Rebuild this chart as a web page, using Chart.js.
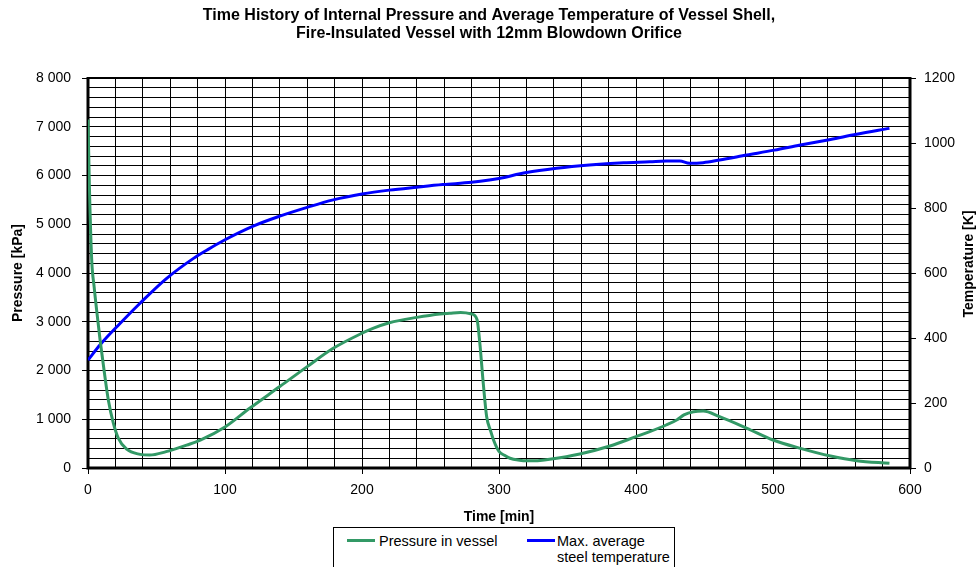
<!DOCTYPE html>
<html>
<head>
<meta charset="utf-8">
<script src="https://cdn.jsdelivr.net/npm/chart.js@4.4.1/dist/chart.umd.min.js"></script>
<style>
  html, body { margin: 0; padding: 0; background: #fff; }
  #wrap { position: relative; width: 978px; height: 567px; overflow: hidden; }
  #legend {
    position: absolute; left: 333px; top: 527px; width: 342px; height: 60px;
    border: 1px solid #000; background: #fff; box-sizing: border-box;
    font-family: "Liberation Sans", Arial, sans-serif; font-size: 14.5px; color: #000;
  }
  .item { position: absolute; top: 5px; line-height: 16px; white-space: nowrap; }
  .swatch { position: absolute; top: 11px; width: 28px; height: 3px; }
</style>
</head>
<body>
<div id="wrap">
  <canvas id="c" width="978" height="567"></canvas>
  <div id="legend">
    <div class="swatch" style="left:13px; background:#339966;"></div>
    <div class="item" style="left:45px;">Pressure in vessel</div>
    <div class="swatch" style="left:193px; background:#0000ff;"></div>
    <div class="item" style="left:223px;">Max. average<br>steel temperature</div>
  </div>
</div>
<script>
// ---- Data ----
const titleLines = [
  "Time History of Internal Pressure and Average Temperature of Vessel Shell,",
  "Fire-Insulated Vessel with 12mm Blowdown Orifice"
];
const pressureLabel = "Pressure in vessel";
const temperatureLabel = "Max. average steel temperature";

const pressureTime = [0, 1, 2.7, 4.5, 6.3, 8.8, 11.7, 14.8, 18.5, 22.1, 28.2, 38, 45, 57, 72, 82, 100, 118, 140, 160, 179, 200, 208, 220, 240, 257, 264, 272, 280, 284, 286, 288.5, 291, 294, 296, 300, 304, 308, 315, 320, 330, 337, 359, 381, 400, 410, 422, 430, 435, 442, 449, 461, 481, 500, 520, 542, 561, 585];
const pressureValues = [7150, 5800, 4270, 3710, 3240, 2630, 2010, 1400, 920, 615, 385, 280, 265, 335, 470, 570, 840, 1225, 1670, 2080, 2455, 2765, 2865, 2980, 3090, 3160, 3175, 3190, 3160, 3040, 2560, 1740, 1050, 750, 575, 340, 260, 200, 160, 148, 155, 178, 287, 451, 643, 745, 882, 990, 1090, 1155, 1170, 1053, 814, 574, 403, 246, 150, 96];

const temperatureTime = [0, 9, 23, 38, 57, 77, 87, 99, 121, 140, 160, 179, 200, 220, 240, 259, 280, 293, 300, 320, 342, 366, 391, 410, 422, 432, 439, 449, 461, 481, 501, 520, 542, 561, 585];
const temperatureValues = [332, 380, 443, 507, 582, 645, 671, 700, 745, 775, 802, 825, 843, 855, 864, 872, 879, 886, 891, 909, 922, 932, 939, 942, 944.6, 944.6, 937.5, 939.5, 947.7, 963, 978, 994, 1011, 1027, 1045];

const xTitle = "Time [min]";
const yLeftTitle = "Pressure [kPa]";
const yRightTitle = "Temperature [K]";

// ---- Chart ----
const FONT = '"Liberation Sans", Arial, sans-serif';
const toPts = (xs, ys) => xs.map((x, i) => ({ x: x, y: ys[i] }));
const fmtK = v => v === 0 ? '0' : String(v).replace(/\B(?=(\d{3})+(?!\d))/g, ' ');

const frame = {
  id: 'frame',
  beforeDatasetsDraw(chart) {
    const a = chart.chartArea, ctx = chart.ctx;
    ctx.save();
    ctx.strokeStyle = '#000';
    ctx.lineWidth = 2;
    ctx.beginPath(); ctx.moveTo(a.left, a.top); ctx.lineTo(a.right, a.top); ctx.stroke();
    ctx.lineWidth = 3;
    ctx.beginPath();
    ctx.moveTo(a.left, a.top - 1); ctx.lineTo(a.left, a.bottom); ctx.lineTo(a.right, a.bottom); ctx.lineTo(a.right, a.top - 1);
    ctx.stroke();
    ctx.restore();
  },
  afterDraw(chart) {
    const s = chart.scales.y1, a = chart.chartArea, ctx = chart.ctx;
    ctx.save();
    ctx.font = 'bold 14px ' + FONT;
    ctx.fillStyle = '#000';
    ctx.textAlign = 'center';
    ctx.textBaseline = 'middle';
    ctx.translate(s.right - 9, (a.top + a.bottom) / 2 - 9);
    ctx.rotate(-Math.PI / 2);
    ctx.fillText(yRightTitle, 0, 0);
    ctx.restore();
  }
};

new Chart(document.getElementById('c'), {
  type: 'line',
  data: {
    datasets: [
      {
        label: pressureLabel,
        data: toPts(pressureTime, pressureValues),
        borderColor: '#339966', backgroundColor: '#339966',
        borderWidth: 3, pointRadius: 0, cubicInterpolationMode: 'monotone',
        yAxisID: 'y'
      },
      {
        label: temperatureLabel,
        data: toPts(temperatureTime, temperatureValues),
        borderColor: '#0000ff', backgroundColor: '#0000ff',
        borderWidth: 3, pointRadius: 0, cubicInterpolationMode: 'monotone',
        yAxisID: 'y1'
      }
    ]
  },
  options: {
    responsive: false, animation: false, devicePixelRatio: 1,
    layout: { padding: 0 },
    plugins: {
      legend: { display: false },
      tooltip: { enabled: false },
      title: {
        display: true, text: titleLines, color: '#000',
        font: { family: FONT, size: 16, weight: 'bold', lineHeight: 18 / 16 },
        padding: { top: 7, bottom: 35 }
      }
    },
    scales: {
      x: {
        type: 'linear', min: 0, max: 600,
        afterFit: s => { s.height = 99; },
        border: { display: false },
        grid: {
          color: '#000', lineWidth: 1, tickLength: 6,
          tickColor: c => (c.tick && c.tick.value % 100 === 0) ? '#000' : 'rgba(0,0,0,0)'
        },
        ticks: {
          stepSize: 20, autoSkip: false, maxRotation: 0, padding: 8, color: '#000',
          font: { family: FONT, size: 14 },
          callback: v => v % 100 === 0 ? String(v) : ''
        },
        title: {
          display: true, text: xTitle, color: '#000',
          font: { family: FONT, size: 14, weight: 'bold' },
          padding: { top: 0, bottom: 41 }
        }
      },
      y: {
        type: 'linear', position: 'left', min: 0, max: 8000,
        afterFit: s => { s.width = 88; },
        border: { display: false },
        grid: {
          color: '#000', lineWidth: 1, tickLength: 6,
          tickColor: c => (c.tick && c.tick.value % 1000 === 0) ? '#000' : 'rgba(0,0,0,0)'
        },
        ticks: {
          stepSize: 200, autoSkip: false, padding: 11, color: '#000',
          font: { family: FONT, size: 14 },
          callback: v => v % 1000 === 0 ? fmtK(v) : ''
        },
        title: {
          display: true, text: yLeftTitle, color: '#000',
          font: { family: FONT, size: 14, weight: 'bold' },
          padding: { top: 10, bottom: 0 }
        }
      },
      y1: {
        type: 'linear', position: 'right', min: 0, max: 1200,
        afterFit: s => { s.width = 68; },
        border: { display: false },
        grid: { drawOnChartArea: false, color: '#000', tickLength: 6, lineWidth: 1 },
        ticks: {
          stepSize: 200, padding: 8, color: '#000',
          font: { family: FONT, size: 14 },
          callback: v => String(v)
        },
        title: { display: false }
      }
    }
  },
  plugins: [frame]
});
</script>
</body>
</html>
